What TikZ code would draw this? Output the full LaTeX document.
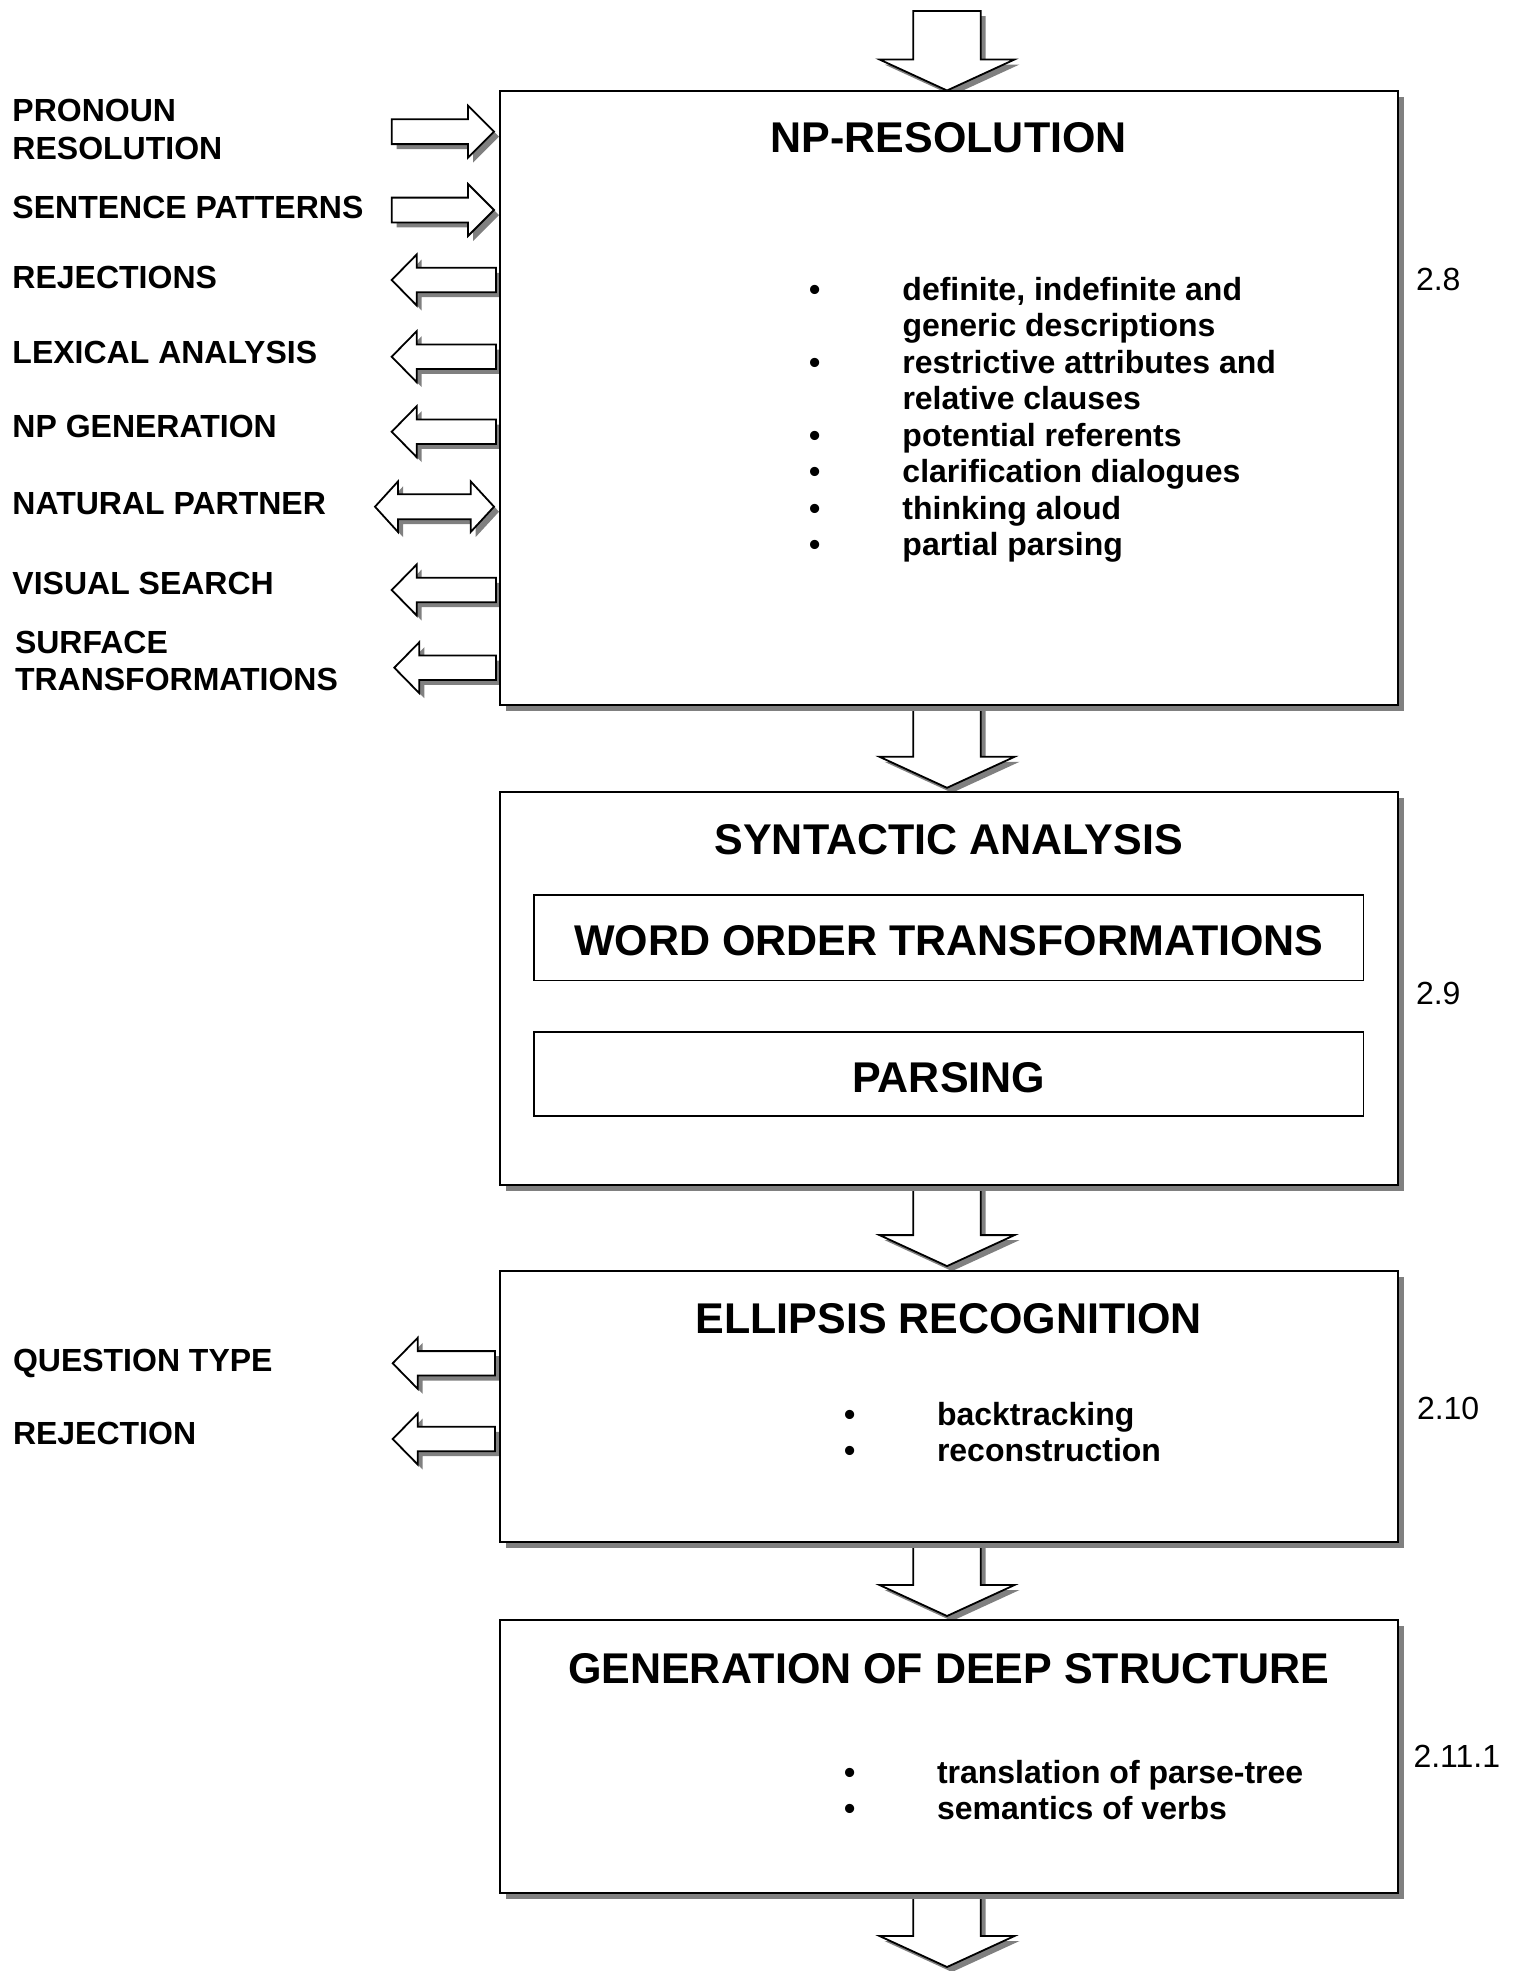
\documentclass[tikz,border=0pt]{standalone}
\usepackage{fontspec}
\setmainfont{Liberation Sans}
\usetikzlibrary{calc,shadows}
\pgfdeclarelayer{bg}
\pgfsetlayers{bg,main}

\newcommand\stagefont{\bfseries\fontsize{43}{49}\selectfont}
\newcommand\labelfont{\bfseries\fontsize{32}{37.6}\selectfont}
\newcommand\itemfont{\bfseries\fontsize{32}{36.5}\selectfont}
\newcommand\secfont{\fontsize{32}{36}\selectfont}

% block arrows: #1 = start (centre of the tail), #2 = tip
\newcommand\blockdown[2]{%
  \draw[blockarrow] ($(#1)+(-33.7,0)$) -- ($(#2)+(-33.7,-31)$) -- ($(#2)+(-67.5,-31)$)
    -- (#2) -- ($(#2)+(67.5,-31)$) -- ($(#2)+(33.7,-31)$) -- ($(#1)+(33.7,0)$) -- cycle;}
\newcommand\blockleft[2]{%
  \draw[blockarrow] ($(#1)+(0,-12.2)$) -- ($(#2)+(25,-12.2)$) -- ($(#2)+(25,-25.5)$)
    -- (#2) -- ($(#2)+(25,25.5)$) -- ($(#2)+(25,12.2)$) -- ($(#1)+(0,12.2)$) -- cycle;}
\newcommand\blockright[2]{%
  \draw[blockarrow] ($(#1)+(0,-12.4)$) -- ($(#2)+(-26,-12.4)$) -- ($(#2)+(-26,-26)$)
    -- (#2) -- ($(#2)+(-26,26)$) -- ($(#2)+(-26,12.4)$) -- ($(#1)+(0,12.4)$) -- cycle;}
% double-headed block arrow: #1 = left tip, #2 = right tip
\newcommand\blockboth[2]{%
  \draw[blockarrow] (#1) -- ($(#1)+(23,-25.3)$) -- ($(#1)+(23,-12.5)$) -- ($(#2)+(-23.3,-12.5)$)
    -- ($(#2)+(-23.3,-25.3)$) -- (#2) -- ($(#2)+(-23.3,25.3)$) -- ($(#2)+(-23.3,12.5)$)
    -- ($(#1)+(23,12.5)$) -- ($(#1)+(23,25.3)$) -- cycle;}

\begin{document}
\begin{tikzpicture}[x=1pt,y=-1pt,
  every node/.style={inner sep=0pt,outer sep=0pt},
  stage/.style={draw,line width=2pt,fill=white,minimum width=897.5pt,
    drop shadow={shadow xshift=6pt,shadow yshift=-6pt,fill=black!50,opacity=1}},
  subbox/.style={draw,line width=1.5pt,fill=white,minimum width=829.6pt},
  blockarrow/.style={draw,line width=1.8pt,fill=white,line join=miter,
    drop shadow={shadow xshift=5pt,shadow yshift=-5pt,fill=black!50,opacity=1}},
  stagetitle/.style={anchor=base,font=\stagefont},
  lbl/.style={anchor=base west,font=\labelfont},
  items/.style={anchor=base west,font=\itemfont},
  sec/.style={anchor=base west,font=\secfont}]

\begin{pgfonlayer}{bg}
  \fill[white] (0,0) rectangle (1517,1971);
\end{pgfonlayer}
\useasboundingbox (0,0) rectangle (1517,1971);

% ---------- stages ----------
\node[stage,minimum height=614.5pt] (np)  at (948.75,397.75) {};
\node[stage,minimum height=393.2pt] (syn) at (948.75,988.4) {};
\node[subbox,minimum height=85.5pt] (wo)  at (948.8,937.55) {};
\node[subbox,minimum height=84.2pt] (pars) at (948.8,1073.9) {};
\node[stage,minimum height=271.4pt] (ell) at (948.75,1406.3) {};
\node[stage,minimum height=272.7pt] (gen) at (948.75,1756.35) {};

\node[stagetitle] (np-t)   at (np.north |- 0,152)   {NP-RESOLUTION};
\node[stagetitle] (syn-t)  at (syn.north |- 0,854)  {SYNTACTIC ANALYSIS};
\node[stagetitle] (wo-t)   at (wo.north |- 0,955)   {WORD ORDER TRANSFORMATIONS};
\node[stagetitle] (pars-t) at (pars.north |- 0,1092) {PARSING};
\node[stagetitle] (ell-t)  at (ell.north |- 0,1333) {ELLIPSIS RECOGNITION};
\node[stagetitle] (gen-t)  at (gen.north |- 0,1683) {GENERATION OF DEEP STRUCTURE};

% ---------- stage contents ----------
\node[items] (np-l) at (809,300) {\begin{tabular}[t]{@{}p{93.5pt}@{}l@{}}
  • & definite, indefinite and\\
    & generic descriptions\\
  • & restrictive attributes and\\
    & relative clauses\\
  • & potential referents\\
  • & clarification dialogues\\
  • & thinking aloud\\
  • & partial parsing
  \end{tabular}};
\node[items] (ell-l) at (844,1425) {\begin{tabular}[t]{@{}p{93pt}@{}l@{}}
  • & backtracking\\
  • & reconstruction
  \end{tabular}};
\node[items] (gen-l) at (844,1783) {\begin{tabular}[t]{@{}p{93pt}@{}l@{}}
  • & translation of parse-tree\\
  • & semantics of verbs
  \end{tabular}};

% ---------- section numbers ----------
\node[sec] (s28)  at (1416,290)  {2.8};
\node[sec] (s29)  at (1416,1004) {2.9};
\node[sec] (s210) at (1417,1419) {2.10};
\node[sec] (s211) at (1413.5,1767) {2.11.1};

% ---------- side labels ----------
\node[lbl] (pron) at (12.5,121.7) {\begin{tabular}[t]{@{}l@{}}PRONOUN\\RESOLUTION\end{tabular}};
\node[lbl] (sent) at (12.5,218.3) {SENTENCE PATTERNS};
\node[lbl] (rej)  at (12.5,288.3) {REJECTIONS};
\node[lbl] (lex)  at (12.5,363.3) {LEXICAL ANALYSIS};
\node[lbl] (npg)  at (12.5,437.3) {NP GENERATION};
\node[lbl] (nat)  at (12.5,514)   {NATURAL PARTNER};
\node[lbl] (vis)  at (12.5,594)   {VISUAL SEARCH};
\node[lbl] (surf) at (15,653.3) {\begin{tabular}[t]{@{}l@{}}SURFACE\\TRANSFORMATIONS\end{tabular}};
\node[lbl] (qt)   at (13,1371.7) {QUESTION TYPE};
\node[lbl] (rej2) at (13,1444)   {REJECTION};

% ---------- connector end points ----------
\coordinate (axis) at (947,0);
\coordinate (src)  at (947,11);
\coordinate (sink) at (947,1967);
\coordinate (npin) at ([xshift=-6pt]np.west);
\coordinate (npout) at ([xshift=-4pt]np.west);
\coordinate (ellout) at ([xshift=-5pt]ell.west);

\coordinate (pron-s) at (391.7,131.7);
\coordinate (sent-s) at (391.7,210);
\coordinate (rej-t)  at (391.7,280);
\coordinate (lex-t)  at (391.7,356.7);
\coordinate (npg-t)  at (391.7,431.7);
\coordinate (nat-t)  at (375,506.7);
\coordinate (vis-t)  at (391.7,590);
\coordinate (surf-t) at (394.3,667.7);
\coordinate (qt-t)   at (392.7,1363.3);
\coordinate (rej2-t) at (392.7,1439);

% ---------- block arrows ----------
\begin{pgfonlayer}{bg}
  \blockdown{src}{axis |- np.north}
  \blockdown{axis |- np.south}{$(axis |- syn.north)+(0,-4)$}
  \blockdown{axis |- syn.south}{$(axis |- ell.north)+(0,-4.5)$}
  \blockdown{axis |- ell.south}{$(axis |- gen.north)+(0,-4)$}
  \blockdown{axis |- gen.south}{sink}

  \blockright{pron-s}{npin |- pron-s}
  \blockright{sent-s}{npin |- sent-s}
  \blockleft{npout |- rej-t}{rej-t}
  \blockleft{npout |- lex-t}{lex-t}
  \blockleft{npout |- npg-t}{npg-t}
  \blockboth{nat-t}{npin |- nat-t}
  \blockleft{npout |- vis-t}{vis-t}
  \blockleft{npout |- surf-t}{surf-t}
  \blockleft{ellout |- qt-t}{qt-t}
  \blockleft{ellout |- rej2-t}{rej2-t}
\end{pgfonlayer}
\end{tikzpicture}
\end{document}
